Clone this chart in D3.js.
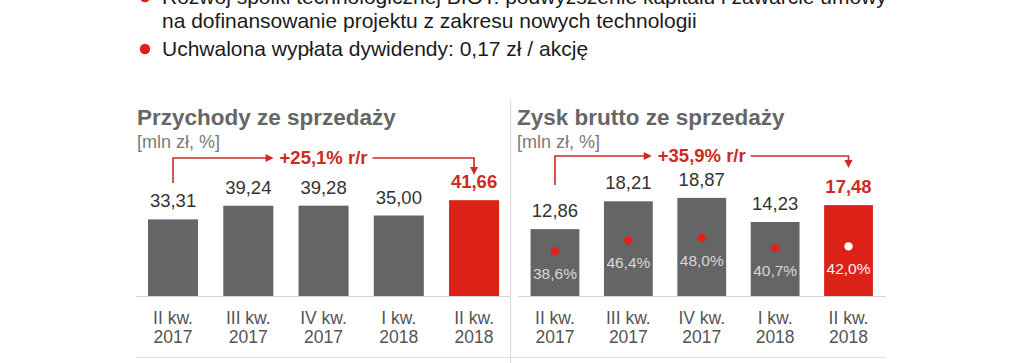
<!DOCTYPE html>
<html>
<head>
<meta charset="utf-8">
<script src="https://cdn.jsdelivr.net/npm/d3@7"></script>
<style>
  body { margin: 0; background: #fff; }
  svg { display: block; font-family: "Liberation Sans", Arial, sans-serif; }
</style>
</head>
<body>
<svg id="chart" width="1024" height="363"></svg>
<script>
const bullets = [
  ["Rozwój spółki technologicznej BIOT: podwyższenie kapitału i zawarcie umowy",
   "na dofinansowanie projektu z zakresu nowych technologii"],
  ["Uchwalona wypłata dywidendy: 0,17 zł / akcję"]
];
const quarters = ["II kw.", "III kw.", "IV kw.", "I kw.", "II kw."];
const years = ["2017", "2017", "2017", "2018", "2018"];
const revenue = [33.31, 39.24, 39.28, 35.00, 41.66];
const grossProfit = [12.86, 18.21, 18.87, 14.23, 17.48];
const grossMargin = [38.6, 46.4, 48.0, 40.7, 42.0];
const titles = ["Przychody ze sprzedaży", "Zysk brutto ze sprzedaży"];
const unitLabel = "[mln zł, %]";
const growthLabels = ["+25,1% r/r", "+35,9% r/r"];

const GREY = "#656565", RED = "#dc2119", RED_TXT = "#cf2a24";

const pl = d3.formatLocale({decimal: ",", thousands: " ", grouping: [3], currency: ["", " zł"]});
const fmtVal = pl.format(".2f");
const fmtPct = d => pl.format(".1f")(d) + "%";

const svg = d3.select("#chart");

// bullet list at top (first line cut by the frame, as in the slide)
let lineY = 4;
bullets.forEach((b, bi) => {
  svg.append("circle").attr("cx", 145).attr("cy", lineY - 7).attr("r", 5.2).attr("fill", "#e0201c");
  b.forEach((t, li) => {
    svg.append("text").attr("x", 162).attr("y", lineY)
      .attr("font-size", 21).attr("fill", "#1b1b1b").text(t);
    lineY += 24;
  });
  lineY += 4;
});

const sepX = 510.5;
svg.append("line").attr("x1", sepX).attr("x2", sepX).attr("y1", 100).attr("y2", 363)
  .attr("stroke", "#e6d8d8").attr("stroke-width", 1);
svg.append("line").attr("x1", 136).attr("x2", 886).attr("y1", 357.5).attr("y2", 357.5)
  .attr("stroke", "#ead9d9").attr("stroke-width", 1);

const baseY = 296;

function drawPanel(o) {
  const g = svg.append("g");
  const x = d3.scaleBand().domain(d3.range(o.values.length)).range(o.xRange).paddingInner(0.335).paddingOuter(0.335);
  const y = d3.scaleLinear().domain([0, o.yMax]).range([baseY, baseY - o.yPx]);
  const last = o.values.length - 1;

  g.append("text").attr("x", o.titleX).attr("y", 125).attr("font-size", 22.5).attr("font-weight", "bold")
    .attr("fill", "#666").text(o.title);
  g.append("text").attr("x", o.titleX).attr("y", 148).attr("font-size", 18)
    .attr("fill", "#7a7a7a").text(unitLabel);

  g.append("line").attr("x1", o.axis[0]).attr("x2", o.axis[1]).attr("y1", baseY + 0.5).attr("y2", baseY + 0.5)
    .attr("stroke", "#d2d2d2");

  g.selectAll("rect.bar").data(o.values).join("rect").attr("class", "bar")
    .attr("x", (d, i) => x(i)).attr("width", x.bandwidth())
    .attr("y", d => y(d)).attr("height", d => baseY - y(d))
    .attr("fill", (d, i) => i === last ? RED : GREY);

  g.selectAll("text.val").data(o.values).join("text").attr("class", "val")
    .attr("x", (d, i) => x(i) + x.bandwidth() / 2).attr("y", d => y(d) - 12)
    .attr("text-anchor", "middle").attr("font-size", 18.5)
    .attr("font-weight", (d, i) => i === last ? "bold" : null)
    .attr("fill", (d, i) => i === last ? RED_TXT : "#333")
    .text(fmtVal);

  const cat = g.selectAll("text.cat").data(quarters).join("text").attr("class", "cat")
    .attr("text-anchor", "middle").attr("font-size", 17.5).attr("fill", "#555");
  cat.append("tspan").attr("x", (d, i) => x(i) + x.bandwidth() / 2).attr("y", 324).text(d => d);
  cat.append("tspan").attr("x", (d, i) => x(i) + x.bandwidth() / 2).attr("y", 343).text((d, i) => years[i]);

  if (o.pct) {
    const yp = d3.scaleLinear().domain([30, 50]).range([262.9, 235.3]);
    g.selectAll("circle.pt").data(o.pct).join("circle").attr("class", "pt")
      .attr("cx", (d, i) => x(i) + x.bandwidth() / 2).attr("cy", d => yp(d)).attr("r", 4.2)
      .attr("fill", (d, i) => i === last ? "#fff" : "#e3201b");
    g.selectAll("text.pct").data(o.pct).join("text").attr("class", "pct")
      .attr("x", (d, i) => x(i) + x.bandwidth() / 2).attr("y", d => yp(d) + 28)
      .attr("text-anchor", "middle").attr("font-size", 15.5)
      .attr("fill", (d, i) => i === last ? "#f4f4f4" : "#d8d8d8")
      .text(fmtPct);
  }

  // growth arrow from first to last bar
  const cx0 = x(0) + x.bandwidth() / 2, cxN = x(last) + x.bandwidth() / 2, cxM = x(2) + x.bandwidth() / 2;
  const ay = o.arrowY;
  const lbl = g.append("text").attr("x", cxM).attr("y", ay + 6).attr("text-anchor", "middle")
    .attr("font-size", 18.5).attr("font-weight", "bold").attr("fill", RED_TXT).text(o.growth);
  const bb = lbl.node().getBBox();
  const l = bb.x - 6, r = bb.x + bb.width + 5;
  g.append("path").attr("d", `M${cx0},${o.startY} V${ay} H${l - 7}`)
    .attr("fill", "none").attr("stroke", RED_TXT).attr("stroke-width", 1.6);
  g.append("path").attr("d", `M${l},${ay} L${l - 8},${ay - 4} L${l - 8},${ay + 4} Z`).attr("fill", RED_TXT);
  g.append("path").attr("d", `M${r},${ay} H${cxN} V${o.tipY - 7}`)
    .attr("fill", "none").attr("stroke", RED_TXT).attr("stroke-width", 1.6);
  g.append("path").attr("d", `M${cxN},${o.tipY} L${cxN - 4},${o.tipY - 8} L${cxN + 4},${o.tipY - 8} Z`).attr("fill", RED_TXT);
}

drawPanel({
  values: revenue, xRange: [122.8, 524.3], yMax: 50, yPx: 115,
  title: titles[0], titleX: 137, axis: [136, 511], growth: growthLabels[0],
  arrowY: 158, startY: 183, tipY: 175
});
drawPanel({
  values: grossProfit, pct: grossMargin, xRange: [506, 897.5], yMax: 20, yPx: 104,
  title: titles[1], titleX: 517, axis: [518, 886], growth: growthLabels[1],
  arrowY: 156, startY: 185, tipY: 168
});
</script>
</body>
</html>
